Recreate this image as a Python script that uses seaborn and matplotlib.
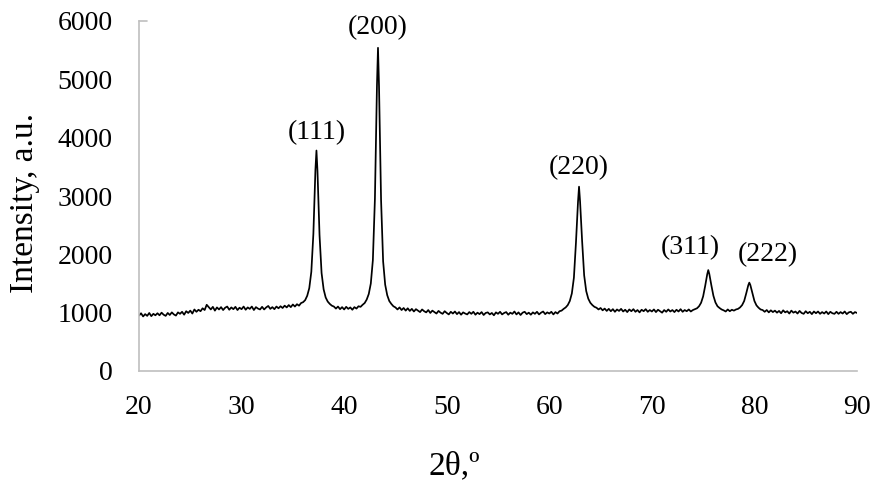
import numpy as np
import pandas as pd
import matplotlib
matplotlib.use("Agg")
import matplotlib.pyplot as plt
import seaborn as sns
from matplotlib.ticker import MultipleLocator

# ---- data (0.2 deg scan grid, 20..90) ----
two_theta = np.round(np.arange(20.0, 90.0001, 0.2), 1)
intensity = [
    950, 990, 935, 975, 945, 995, 940, 980, 955, 990,          # 20.0-21.8
    955, 1000, 965, 945, 995, 960, 1005, 970, 950, 1005,       # 22.0-23.8
    980, 1015, 965, 1025, 995, 1035, 985, 1055, 1015, 1050,    # 24.0-25.8
    1025, 1075, 1045, 1135, 1095, 1055, 1100, 1035, 1090, 1055,  # 26.0-27.8
    1095, 1045, 1085, 1105, 1050, 1090, 1060, 1100, 1045, 1085,  # 28.0-29.8
    1060, 1105, 1050, 1090, 1065, 1105, 1045, 1095, 1070, 1055,  # 30.0-31.8
    1100, 1055, 1090, 1115, 1065, 1095, 1060, 1105, 1075, 1110,  # 32.0-33.8
    1080, 1120, 1090, 1130, 1095, 1140, 1105, 1145, 1120, 1165,  # 34.0-35.8
    1180, 1215, 1290, 1420, 1700, 2350, 3450, 3430, 2330, 1680,  # 36.0-37.8
    1400, 1260, 1190, 1150, 1120, 1105, 1070, 1105, 1060, 1095,  # 38.0-39.8
    1055, 1100, 1065, 1090, 1050, 1095, 1070, 1110, 1100, 1135,  # 40.0-41.8
    1165, 1225, 1320, 1500, 1900, 2950, 4900, 4880, 2930, 1880,  # 42.0-43.8
    1480, 1300, 1200, 1150, 1110, 1090, 1055, 1090, 1045, 1080,  # 44.0-45.8
    1035, 1075, 1030, 1065, 1020, 1060, 1035, 1010, 1055, 1025,  # 46.0-47.8
    1005, 1045, 995, 1035, 1010, 985, 1030, 1000, 980, 1025,     # 48.0-49.8
    995, 970, 1015, 985, 1020, 975, 1010, 965, 1005, 985,        # 50.0-51.8
    970, 1010, 980, 1015, 965, 1000, 975, 1010, 960, 995,        # 52.0-53.8
    1005, 970, 995, 955, 1005, 980, 1015, 970, 995, 1010,        # 54.0-55.8
    965, 1000, 980, 1020, 970, 1005, 960, 1000, 1015, 975,       # 56.0-57.8
    1000, 965, 1005, 980, 1015, 970, 1000, 1020, 975, 1005,      # 58.0-59.8
    985, 1015, 970, 1010, 985, 1025, 1035, 1065, 1090, 1130,     # 60.0-61.8
    1200, 1330, 1600, 2200, 2900, 2910, 2230, 1640, 1370, 1240,  # 62.0-63.8
    1170, 1130, 1100, 1085, 1055, 1080, 1040, 1070, 1030, 1065,  # 64.0-65.8
    1025, 1060, 1015, 1055, 1030, 1065, 1020, 1050, 1010, 1055,  # 66.0-67.8
    1025, 1060, 1015, 1045, 1005, 1050, 1025, 1060, 1015, 1045,  # 68.0-69.8
    1020, 1055, 1010, 1050, 1025, 1000, 1045, 1015, 1055, 1020,  # 70.0-71.8
    1045, 1010, 1050, 1020, 1060, 1015, 1045, 1025, 1055, 1020,  # 72.0-73.8
    1045, 1060, 1075, 1110, 1170, 1280, 1460, 1660, 1665, 1470,  # 74.0-75.8
    1290, 1175, 1110, 1080, 1055, 1040, 1020, 1055, 1025, 1050,  # 76.0-77.8
    1035, 1055, 1065, 1090, 1130, 1200, 1330, 1470, 1475, 1335,  # 78.0-79.8
    1200, 1125, 1085, 1055, 1045, 1015, 1045, 1005, 1040, 1010,  # 80.0-81.8
    1035, 1000, 1030, 990, 1040, 1005, 1025, 985, 1035, 1000,    # 82.0-83.8
    1020, 985, 1030, 995, 980, 1025, 990, 1015, 975, 1020,       # 84.0-85.8
    990, 1020, 980, 1010, 985, 1020, 975, 1015, 990, 980,        # 86.0-87.8
    1015, 980, 1010, 985, 1020, 975, 1005, 1015, 980, 1010,      # 88.0-89.8
    995,                                                         # 90.0
]

# peak maxima (between grid points)
peak_labels = ["(111)", "(200)", "(220)", "(311)", "(222)"]
peak_pos = [37.3, 43.3, 62.9, 75.5, 79.5]
peak_max = [3780, 5540, 3160, 1730, 1515]
# label offsets (points) relative to each peak top
label_dx = [0, 0, 0, -13, 13]
label_dy = [4, 5.5, 4.8, 7.2, 11.5]

x_ticks = [20, 30, 40, 50, 60, 70, 80, 90]
y_ticks = [0, 1000, 2000, 3000, 4000, 5000, 6000]

df = pd.concat([
    pd.DataFrame({"two_theta": two_theta, "intensity": intensity}),
    pd.DataFrame({"two_theta": peak_pos, "intensity": peak_max}),
]).sort_values("two_theta").reset_index(drop=True)

# ---- styling ----
sns.set_theme(style="white")
plt.rcParams["font.family"] = ["Liberation Serif", "DejaVu Serif"]

FS = 20
FS_LABEL = 24
fig = plt.figure(figsize=(8.81, 4.88), dpi=100)
ax = fig.add_axes([139 / 881, 117 / 488, 718 / 881, 350 / 488])

sns.lineplot(data=df, x="two_theta", y="intensity", ax=ax, color="black",
             linewidth=1.25, estimator=None, sort=True)

axis_gray = "#BFBFBF"
ax.set_xlim(20, 90)
ax.set_ylim(0, 6000)
ax.set_xticks(x_ticks)
ax.set_yticks(y_ticks)
ax.xaxis.set_minor_locator(MultipleLocator(2))
for s in ["top", "right"]:
    ax.spines[s].set_visible(False)
for s in ["left", "bottom"]:
    ax.spines[s].set_color(axis_gray)
    ax.spines[s].set_linewidth(1.2)

ax.tick_params(axis="x", which="major", direction="out", length=5, width=1.2,
               color=axis_gray, labelsize=FS, pad=12.5, labelcolor="black")
ax.tick_params(axis="x", which="minor", direction="out", length=2.9, width=1.2,
               color=axis_gray)
ax.tick_params(axis="y", which="major", length=0, labelsize=FS, pad=19,
               labelcolor="black")
ax.axhline(6000, xmin=0, xmax=8 / 718, color=axis_gray, lw=1.2, clip_on=False)

ax.set_xlabel("2θ,º", fontsize=FS_LABEL, color="black")
ax.set_ylabel("Intensity, a.u.", fontsize=FS_LABEL, color="black")
ax.xaxis.set_label_coords((454 - 139) / 718, -(451 - 371) / 350)
ax.yaxis.set_label_coords(-(139 - 40) / 718, (371 - 203) / 350)

for lab, px, pm, dx, dy in zip(peak_labels, peak_pos, peak_max, label_dx, label_dy):
    ax.annotate(lab, xy=(px, pm), xytext=(dx, dy), textcoords="offset points",
                ha="center", va="bottom", fontsize=FS, color="black")

ax.grid(False)
fig.savefig("out.png", dpi=100)
